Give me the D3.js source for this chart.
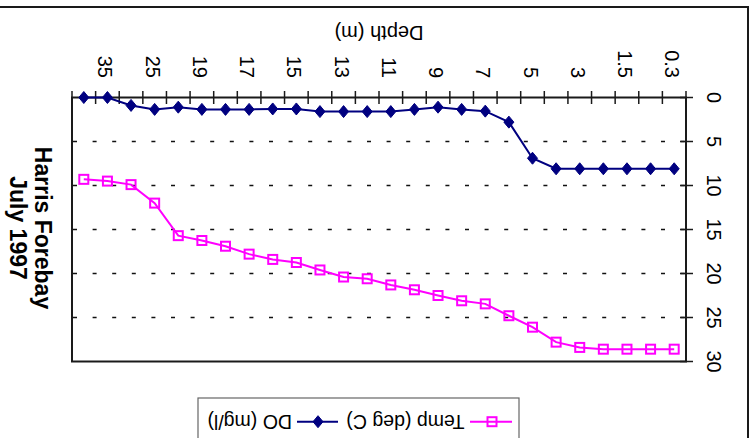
<!DOCTYPE html>
<html>
<head>
<meta charset="utf-8">
<script src="https://cdn.jsdelivr.net/npm/d3@7"></script>
<style>
  html, body { margin: 0; padding: 0; background: #fff; }
  svg { display: block; font-family: "Liberation Sans", Arial, sans-serif; }
</style>
</head>
<body>
<script>
// Depth profile, Harris Forebay, July 1997 (shallowest first)
const depths = ["0.3","1","1.5","2","3","4","5","6","7","8","9","10","11","12","13",
                "14","15","16","17","18","19","20","25","30","35","40"];
const doValues = [8.1, 8.1, 8.1, 8.1, 8.1, 8.1, 6.9, 2.8, 1.55, 1.35, 1.1, 1.35, 1.6,
                  1.6, 1.6, 1.6, 1.3, 1.3, 1.35, 1.35, 1.35, 1.1, 1.35, 0.9, 0, 0];
const tempValues = [28.6, 28.6, 28.6, 28.6, 28.4, 27.8, 26.1, 24.8, 23.45, 23.1, 22.5,
                    21.85, 21.3, 20.6, 20.4, 19.6, 18.75, 18.4, 17.8, 16.9, 16.25, 15.7,
                    12.0, 9.9, 9.5, 9.3];
const valueTicks = [0, 5, 10, 15, 20, 25, 30];
const gridValues = [5, 10, 15, 20, 25];
const seriesNames = ["Temp (deg C)", "DO (mg/l)"];
const titleLines = ["Harris Forebay", "July 1997"];

const W = 753, H = 438;
const plot = { left: 72, right: 686, top: 97.5, bottom: 361.5 };
const NAVY = "#000080", MAGENTA = "#ff00ff", INK = "#1a1a1a";

const svg = d3.select("body").append("svg").attr("width", W).attr("height", H);

// Category axis runs right-to-left: shallowest depth at the right edge
const x = d3.scaleBand().domain(depths).range([plot.right, plot.left]).paddingInner(0).paddingOuter(0);
const cx = d => x(d) + x.bandwidth() / 2;
const y = d3.scaleLinear().domain([0, 30]).range([plot.top, plot.bottom]);

// outer chart frame (top and right edges)
svg.append("path")
  .attr("d", `M0,7H748V${H}`)
  .attr("fill", "none").attr("stroke", INK).attr("stroke-width", 2);

// dashed gridlines
svg.append("g").selectAll("line").data(gridValues).join("line")
  .attr("x1", plot.left + 1).attr("x2", plot.right)
  .attr("y1", d => y(d)).attr("y2", d => y(d))
  .attr("stroke", "#111").attr("stroke-width", 1.5)
  .attr("stroke-dasharray", "4 15.6");

// plot frame
svg.append("rect")
  .attr("x", plot.left).attr("y", plot.top)
  .attr("width", plot.right - plot.left).attr("height", plot.bottom - plot.top)
  .attr("fill", "none").attr("stroke", INK).attr("stroke-width", 2);

// category tick marks at band edges, crossing the top axis
const edges = depths.map(d => x(d)).concat([plot.right]);
svg.append("g").selectAll("line").data(edges).join("line")
  .attr("x1", d => d).attr("x2", d => d)
  .attr("y1", plot.top - 6.5).attr("y2", plot.top + 6.5)
  .attr("stroke", INK).attr("stroke-width", 1.5);

// value tick marks crossing the right axis
svg.append("g").selectAll("line").data(valueTicks).join("line")
  .attr("x1", plot.right - 6).attr("x2", plot.right + 7)
  .attr("y1", d => y(d)).attr("y2", d => y(d))
  .attr("stroke", INK).attr("stroke-width", 1.5);

// value labels, turned a quarter clockwise
svg.append("g").selectAll("text").data(valueTicks).join("text")
  .attr("transform", d => `translate(707,${y(d)}) rotate(90)`)
  .attr("text-anchor", "middle")
  .attr("font-size", 20).attr("fill", "#000")
  .text(d => d);

// depth labels on every other category
svg.append("g").selectAll("text").data(depths.filter((d, i) => i % 2 === 0)).join("text")
  .attr("transform", d => `translate(${cx(d) - 9},78) rotate(90)`)
  .attr("text-anchor", "end")
  .attr("font-size", 20).attr("fill", "#000")
  .text(d => d);

// axis title, upside down
svg.append("text")
  .attr("transform", `translate(${(plot.left + plot.right) / 2},26) rotate(180)`)
  .attr("text-anchor", "middle")
  .attr("font-size", 20).attr("fill", "#000")
  .text("Depth (m)");

// chart title, two lines turned a quarter clockwise
svg.append("g").selectAll("text").data(titleLines).join("text")
  .attr("transform", (d, i) => `translate(${35 - i * 25},228) rotate(90)`)
  .attr("text-anchor", "middle")
  .attr("font-size", 23).attr("font-weight", "bold").attr("fill", "#000")
  .text(d => d);

// series
const diamond = "M0,-6L5,0L0,6L-5,0Z";
const lineGen = vals => d3.line().x((v, i) => cx(depths[i])).y(v => y(v))(vals);

svg.append("path").attr("d", lineGen(tempValues))
  .attr("fill", "none").attr("stroke", MAGENTA).attr("stroke-width", 2);
svg.append("g").selectAll("rect").data(tempValues).join("rect")
  .attr("x", (v, i) => cx(depths[i]) - 4.5).attr("y", v => y(v) - 4.5)
  .attr("width", 9).attr("height", 9)
  .attr("fill", "none").attr("stroke", MAGENTA).attr("stroke-width", 2);

svg.append("path").attr("d", lineGen(doValues))
  .attr("fill", "none").attr("stroke", NAVY).attr("stroke-width", 2);
svg.append("g").selectAll("path").data(doValues).join("path")
  .attr("transform", (v, i) => `translate(${cx(depths[i])},${y(v)})`)
  .attr("d", diamond).attr("fill", NAVY).attr("stroke", NAVY).attr("stroke-width", 1);

// legend box, contents upside down
svg.append("rect")
  .attr("x", 198).attr("y", 398).attr("width", 321).attr("height", 60)
  .attr("fill", "#fff").attr("stroke", "#666").attr("stroke-width", 1.2);

const lg = svg.append("g").attr("transform", "translate(358.5,421.7) rotate(180)");
// Temp entry
lg.append("line").attr("x1", -153.5).attr("x2", -111.5).attr("y1", 0).attr("y2", 0)
  .attr("stroke", MAGENTA).attr("stroke-width", 2);
lg.append("rect").attr("x", -138).attr("y", -4.5).attr("width", 9).attr("height", 9)
  .attr("fill", "none").attr("stroke", MAGENTA).attr("stroke-width", 2);
lg.append("text").attr("x", -106).attr("y", 0).attr("dy", "0.35em")
  .attr("font-size", 19.5).attr("fill", "#000").text(seriesNames[0]);
// DO entry
lg.append("line").attr("x1", 20.5).attr("x2", 61.5).attr("y1", 0).attr("y2", 0)
  .attr("stroke", NAVY).attr("stroke-width", 2);
lg.append("path").attr("transform", "translate(40.5,0)").attr("d", diamond)
  .attr("fill", NAVY).attr("stroke", NAVY).attr("stroke-width", 1);
lg.append("text").attr("x", 66.5).attr("y", 0).attr("dy", "0.35em")
  .attr("font-size", 19.5).attr("fill", "#000").text(seriesNames[1]);
</script>
</body>
</html>
